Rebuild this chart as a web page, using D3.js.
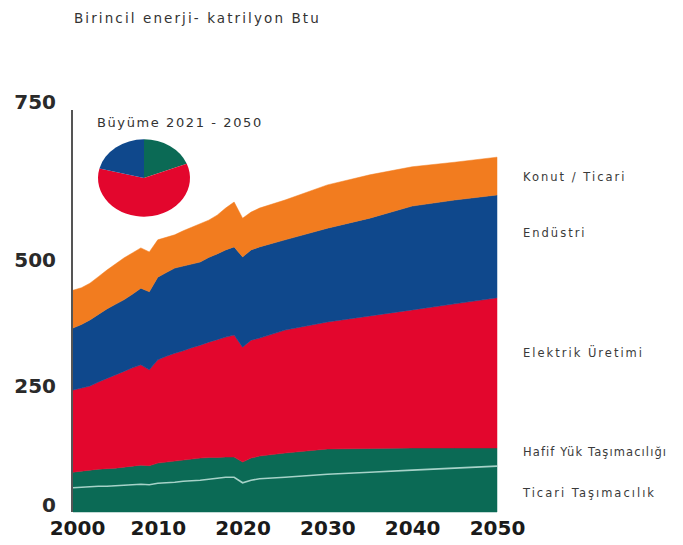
<!DOCTYPE html>
<html><head><meta charset="utf-8">
<script src="https://cdn.jsdelivr.net/npm/d3@7/dist/d3.min.js"></script>
<style>body{margin:0;background:#fff}svg{display:block}</style>
</head><body>
<script>
const years = [2000,2001,2002,2003,2004,2005,2006,2007,2008,2009,2010,2011,2012,2013,2014,2015,2016,2017,2018,2019,2020,2021,2022,2025,2030,2035,2040,2045,2050];
const ticari   = [48,49,50,51,51,52,53,54,55,54,57,58,59,61,62,63,65,67,69,69,58,63,66,69,75,79,83,87,91];
const hafifYuk = [31,32,33,34,35,35,36,37,38,38,40,41,42,42,43,44,43,41,40,40,41,44,45,48,50,47,44,40,36];
const elektrik = [163,165,167,173,179,185,190,195,199,190,205,210,214,217,221,224,229,234,238,242,228,234,234,244,252,263,274,286,298];
const endustri = [123,126,131,134,138,140,142,146,152,155,164,166,169,168,166,165,168,170,173,175,179,179,181,179,186,194,206,206,204];
const konut    = [75,73,73,75,77,80,83,82,80,79,74,70,66,70,73,76,74,77,83,89,77,75,77,79,86,86,78,75,75];
const seriesKeys = ["Ticari Taşımacılık","Hafif Yük Taşımacılığı","Elektrik Üretimi","Endüstri","Konut / Ticari"];
const seriesColors = ["#0b6a55","#0b6a55","#e3062d","#0f488c","#f27c1f"];
const yTicks = [0,250,500,750];
const xTicks = [2000,2010,2020,2030,2040,2050];
const pieLabels = ["Taşımacılık","Elektrik Üretimi","Endüstri"];
const pieValues = [19,60,21];
const pieColors = ["#0b6a55","#e3062d","#0f488c"];
const title = "Birincil enerji- katrilyon Btu";
const pieTitle = "Büyüme 2021 - 2050";

const W=683,H=545;
const svg=d3.select("body").append("svg").attr("width",W).attr("height",H);
const x=d3.scaleLinear().domain([2000,2050]).range([73,497]);
const y=d3.scaleLinear().domain([0,750]).range([512,134]);

const rows=years.map((yr,i)=>({year:yr,[seriesKeys[0]]:ticari[i],[seriesKeys[1]]:hafifYuk[i],[seriesKeys[2]]:elektrik[i],[seriesKeys[3]]:endustri[i],[seriesKeys[4]]:konut[i]}));
const stack=d3.stack().keys(seriesKeys)(rows);
const area=d3.area().x(d=>x(d.data.year)).y0(d=>y(d[0])).y1(d=>y(d[1]));
svg.append("g").selectAll("path").data(stack).join("path")
  .attr("d",area).attr("fill",(d,i)=>seriesColors[i]).attr("stroke",(d,i)=>seriesColors[i]).attr("stroke-width",0.5);
// white separator line between the two transport layers
svg.append("path").datum(stack[0])
  .attr("d",d3.line().x(d=>x(d.data.year)).y(d=>y(d[1])))
  .attr("fill","none").attr("stroke","#bfe3da").attr("stroke-width",1.6).attr("opacity",0.85);

// y axis
const ya=svg.append("g").attr("transform","translate(72,0)")
  .call(d3.axisLeft(y).tickValues(yTicks).tickSize(0).tickPadding(16));
ya.select(".domain").remove();
ya.append("line").attr("x1",0).attr("x2",0).attr("y1",y(0)).attr("y2",110).attr("stroke","#555").attr("stroke-width",2);
ya.selectAll("text").attr("font-family","DejaVu Sans, sans-serif").attr("font-size",20).attr("fill","#2a2a2a").attr("font-weight","bold")
  .attr("dy",(d)=>d===750?"-1.3em":(d===0?"-0.05em":"0.3em"));

// x axis
const xa=svg.append("g").attr("transform","translate(0,512)")
  .call(d3.axisBottom(x).tickValues(xTicks).tickFormat(d3.format("d")).tickSize(0).tickPadding(9));
xa.select(".domain").remove();
xa.selectAll("text").attr("font-family","DejaVu Sans, sans-serif").attr("font-size",20).attr("font-weight","bold").attr("fill","#1a1a1a")
  .attr("dx",(d)=>d===2000?"4":"0");

// title
svg.append("text").attr("x",74).attr("y",23).text(title)
  .attr("font-family","DejaVu Sans, sans-serif").attr("font-size",13.5).attr("letter-spacing","2.1px").attr("fill","#333");

// right labels
const labelYs=[493,452,353,233,177];
svg.append("g").selectAll("text").data(seriesKeys).join("text")
  .attr("x",523).attr("y",(d,i)=>labelYs[i]).text(d=>d)
  .attr("font-family","DejaVu Sans, sans-serif").attr("font-size",11.5)
  .attr("letter-spacing",(d,i)=>i===1?"1.1px":"2px").attr("fill","#3a3a3a").attr("dominant-baseline","middle");

// pie
svg.append("text").attr("x",97).attr("y",127).text(pieTitle)
  .attr("font-family","DejaVu Sans, sans-serif").attr("font-size",13).attr("letter-spacing","1.6px").attr("fill","#333");
const pg=svg.append("g").attr("transform","translate(144,178) scale(1,0.84)");
const arcs=d3.pie().sort(null)(pieValues);
pg.selectAll("path").data(arcs).join("path")
  .attr("d",d3.arc().innerRadius(0).outerRadius(46)).attr("fill",(d,i)=>pieColors[i]);
</script>
</body></html>
